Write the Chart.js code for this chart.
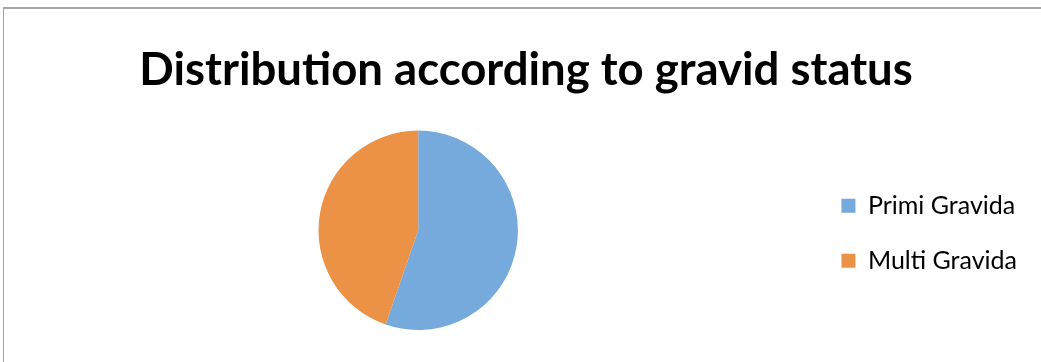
<!DOCTYPE html>
<html>
<head>
<meta charset="utf-8">
<script src="https://cdn.jsdelivr.net/npm/chart.js@4"></script>
<style>
  html, body { margin: 0; padding: 0; background: #fff; overflow: hidden; }
  #frame { position: absolute; left: 3px; top: 7px; width: 1100px; height: 400px;
           border-top: 2px solid #a6a6a6; border-left: 1px solid #a6a6a6; }
  #chartCanvas { position: absolute; left: 0; top: 0; }
</style>
</head>
<body>
<div id="frame"></div>
<canvas id="chartCanvas" width="1041" height="362"></canvas>
<script>
const labels = ['Primi Gravida', 'Multi Gravida'];
const values = [55.3, 44.7];
const colors = ['#76a9dc', '#eb9246'];
const chartTitle = 'Distribution according to gravid status';

document.addEventListener('DOMContentLoaded', function () {
    const ctx = document.getElementById('chartCanvas').getContext('2d');
    new Chart(ctx, {
        type: 'pie',
        data: {
            labels: labels,
            datasets: [{
                data: values,
                backgroundColor: colors,
                borderWidth: 0
            }]
        },
        options: {
            responsive: false,
            animation: false,
            layout: {
                padding: { left: 25, right: 14, top: 0, bottom: 32 }
            },
            plugins: {
                title: {
                    display: true,
                    text: chartTitle,
                    color: '#000',
                    font: { family: 'Lato', size: 45.5, weight: 'bold' },
                    padding: { top: 43, bottom: 33 }
                },
                legend: {
                    position: 'right',
                    fullSize: false,
                    align: 'center',
                    // empty title just nudges the items down a few px
                    title: { display: true, text: '', font: { size: 5 }, padding: 0 },
                    labels: {
                        color: '#000',
                        font: { family: 'Lato', size: 25 },
                        boxWidth: 14,
                        boxHeight: 14,
                        padding: 30
                    }
                },
                tooltip: { enabled: false }
            }
        }
    });
});
</script>
</body>
</html>
